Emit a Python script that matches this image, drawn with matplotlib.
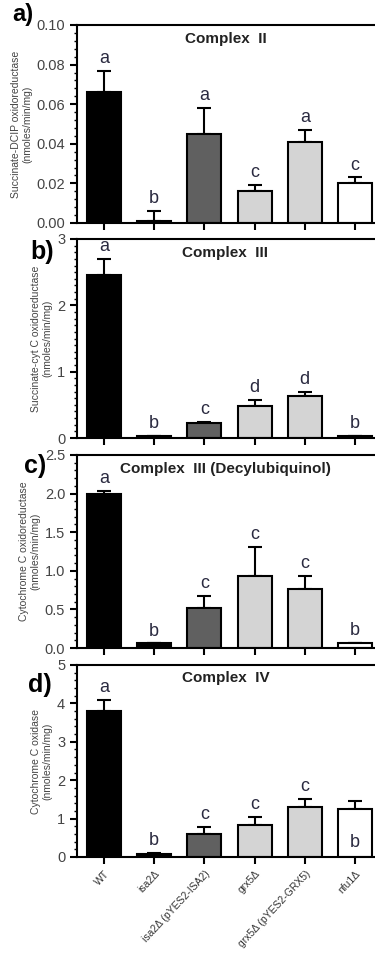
import matplotlib
matplotlib.use("Agg")
import matplotlib.pyplot as plt
from matplotlib.ticker import MultipleLocator

plt.rcParams['font.family'] = ['Liberation Sans', 'DejaVu Sans']

strains = ["WT", "isa2Δ", "isa2Δ (pYES2-ISA2)", "grx5Δ", "grx5Δ (pYES2-GRX5)", "nfu1Δ"]
colors = ["black", "black", "#606060", "#d4d4d4", "#d4d4d4", "white"]

# Complex II
c2_mean = [0.066, 0.001, 0.045, 0.016, 0.041, 0.020]
c2_err = [0.011, 0.005, 0.013, 0.003, 0.006, 0.003]
c2_letters = ["a", "b", "a", "c", "a", "c"]

# Complex III
c3_mean = [2.45, 0.03, 0.22, 0.48, 0.64, 0.03]
c3_err = [0.25, 0.0, 0.02, 0.09, 0.06, 0.0]
c3_letters = ["a", "b", "c", "d", "d", "b"]

# Complex III (Decylubiquinol)
c3d_mean = [2.00, 0.06, 0.52, 0.93, 0.77, 0.06]
c3d_err = [0.04, 0.0, 0.15, 0.38, 0.16, 0.01]
c3d_letters = ["a", "b", "c", "c", "c", "b"]

# Complex IV
c4_mean = [3.80, 0.07, 0.60, 0.84, 1.30, 1.25]
c4_err = [0.30, 0.03, 0.18, 0.21, 0.22, 0.22]
c4_letters = ["a", "b", "c", "c", "c", "b"]

fig = plt.figure(figsize=(3.75, 9.61), dpi=100)

panels = [
    ("Complex  II", c2_mean, c2_err, c2_letters, 0.10, 0.02, 0.004, "%.2f",
     "Succinate-DCIP oxidoreductase\n(nmoles/min/mg)", [25, 223]),
    ("Complex  III", c3_mean, c3_err, c3_letters, 3, 1, 0.1, "%d",
     "Succinate-cyt C oxidoreductase\n(nmoles/min/mg)", [239, 438]),
    ("Complex  III (Decylubiquinol)", c3d_mean, c3d_err, c3d_letters, 2.5, 0.5, 0.1, "%.1f",
     "Cytochrome C oxidoreductase\n(nmoles/min/mg)", [455, 648]),
    ("Complex  IV", c4_mean, c4_err, c4_letters, 5, 1, 0.2, "%d",
     "Cytochrome C oxidase\n(nmoles/min/mg)", [665, 857]),
]

H = 961.0
W = 375.0
x = range(len(strains))
for i, (title, mean, err, letters, ymax, major, minor, fmt, ylab, (top, bot)) in enumerate(panels):
    ax = fig.add_axes([77 / W, 1 - bot / H, 303 / W, (bot - top) / H])
    ax.bar(x, mean, width=0.68, color=colors, edgecolor="black", linewidth=1.5, zorder=2)
    ax.errorbar(x, mean, yerr=[[0] * len(err), err], fmt="none", ecolor="black",
                elinewidth=1.5, capsize=5, capthick=1.5, zorder=1)
    ax.set_xlim(-0.54, 5.5)
    ax.set_ylim(0, ymax)
    ax.yaxis.set_major_locator(MultipleLocator(major))
    ax.yaxis.set_minor_locator(MultipleLocator(minor))
    ax.yaxis.set_major_formatter(plt.FormatStrFormatter(fmt))
    for s in ax.spines.values():
        s.set_linewidth(1.5)
    ax.tick_params(axis="both", which="major", direction="out", length=5, width=1.5,
                   labelsize=10.5, labelcolor="#444444")
    ax.tick_params(axis="y", which="minor", direction="out", length=2.5, width=1)
    ax.set_xticks(list(x))
    if i == 3:
        ax.set_xticklabels(strains, rotation=47, ha="right", rotation_mode="anchor",
                           fontsize=7.5, color="#333333")
    else:
        ax.set_xticklabels([])
    ax.set_ylabel(ylab, fontsize=7.5, color="#444444", labelpad=3)
    ax.text(0.49, 0.93, title, transform=ax.transAxes, ha="center", va="center",
            fontsize=11, fontweight="bold", color="#222222")
    for j in x:
        yl = mean[j] + err[j] + ymax * 0.02
        if i == 3 and j == 5:
            yl = ymax * 0.03
        ax.text(j, yl, letters[j], ha="center", va="bottom", fontsize=13, color="#2a2a40")

fig.text(12 / W, 1 - 14 / H, "a)", fontsize=17, fontweight="bold", va="center")
fig.text(30 / W, 1 - 252 / H, "b)", fontsize=18, fontweight="bold", va="center")
fig.text(24 / W, 1 - 466 / H, "c)", fontsize=18, fontweight="bold", va="center")
fig.text(28 / W, 1 - 685 / H, "d)", fontsize=18, fontweight="bold", va="center")

fig.savefig("out.png", dpi=100)
